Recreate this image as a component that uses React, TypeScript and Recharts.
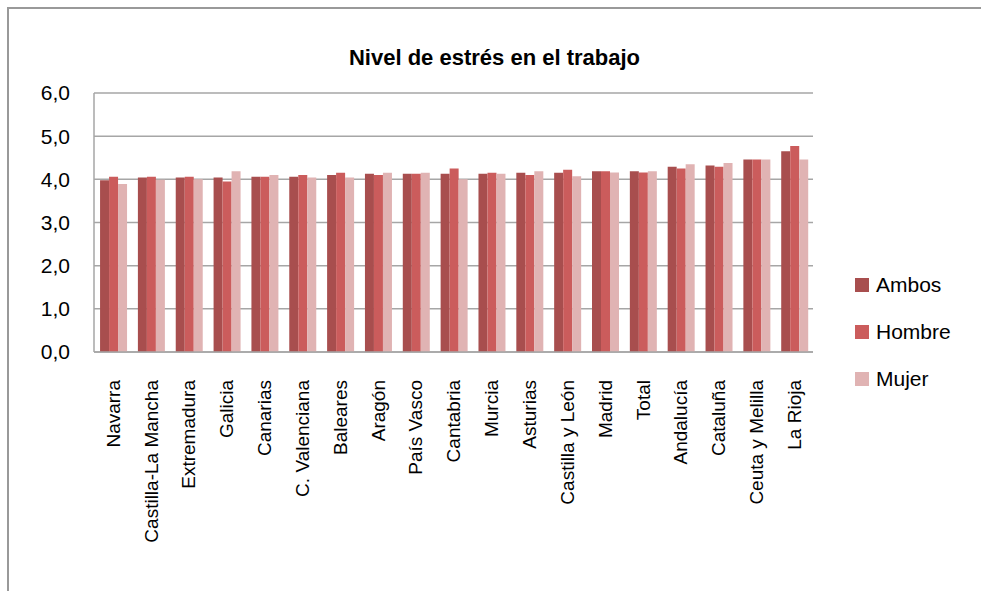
import React from 'react';
import { BarChart, Bar, XAxis, YAxis, CartesianGrid } from 'recharts';

const categories = ['Navarra', 'Castilla-La Mancha', 'Extremadura', 'Galicia', 'Canarias', 'C. Valenciana', 'Baleares', 'Aragón', 'País Vasco', 'Cantabria', 'Murcia', 'Asturias', 'Castilla y León', 'Madrid', 'Total', 'Andalucía', 'Cataluña', 'Ceuta y Melilla', 'La Rioja'];
const ambos = [3.98, 4.04, 4.04, 4.04, 4.06, 4.06, 4.10, 4.13, 4.13, 4.13, 4.13, 4.15, 4.15, 4.19, 4.19, 4.29, 4.32, 4.46, 4.65];
const hombre = [4.06, 4.06, 4.06, 3.95, 4.06, 4.10, 4.15, 4.10, 4.13, 4.25, 4.15, 4.10, 4.22, 4.19, 4.16, 4.25, 4.29, 4.46, 4.77];
const mujer = [3.89, 3.99, 4.00, 4.19, 4.10, 4.04, 4.04, 4.15, 4.15, 4.00, 4.13, 4.19, 4.07, 4.16, 4.19, 4.35, 4.38, 4.46, 4.46];
const yTicks = [0, 1, 2, 3, 4, 5, 6];
const title = 'Nivel de estrés en el trabajo';

const seriesInfo = [
  { key: 'Ambos', color: '#A84E4E' },
  { key: 'Hombre', color: '#CB5C5C' },
  { key: 'Mujer', color: '#E0B3B3' },
];

const data = categories.map((c, i) => ({ name: c, Ambos: ambos[i], Hombre: hombre[i], Mujer: mujer[i] }));

const FONT = '"Liberation Sans", Arial, sans-serif';

const XTick = (props: any) => {
  const { x, y, payload } = props;
  return (
    <text
      x={x}
      y={y}
      transform={`rotate(-90, ${x}, ${y})`}
      textAnchor="end"
      dy="0.36em"
      fontSize={19}
      fontFamily={FONT}
      fill="#000"
    >
      {payload.value}
    </text>
  );
};

export default function App() {
  return (
    <div style={{ position: 'absolute', left: 0, top: 0, width: 981, height: 591, background: '#fff' }}>
      <div
        style={{
          position: 'absolute',
          left: 7,
          top: 7,
          width: 974,
          height: 584,
          borderTop: '2px solid #999',
          borderLeft: '2px solid #999',
          boxSizing: 'border-box',
        }}
      />
      <div
        style={{
          position: 'absolute',
          left: 0,
          top: 45,
          width: 981,
          textAlign: 'center',
          fontFamily: FONT,
          fontWeight: 'bold',
          fontSize: 22,
          color: '#000',
          paddingLeft: 8,
          boxSizing: 'border-box',
        }}
      >
        {title}
      </div>
      <div style={{ position: 'absolute', left: 0, top: 0 }}>
        <BarChart
          width={981}
          height={591}
          data={data}
          margin={{ top: 93, right: 168, bottom: 9, left: 0 }}
          barCategoryGap="16%"
          barGap={0}
        >
          <CartesianGrid vertical={false} stroke="#A6A6A6" strokeWidth={1.5} />
          <XAxis
            dataKey="name"
            interval={0}
            height={230}
            tickLine={false}
            axisLine={{ stroke: '#A6A6A6', strokeWidth: 1.5 }}
            tick={<XTick />}
            tickMargin={22}
          />
          <YAxis
            width={94}
            domain={[0, 6]}
            ticks={yTicks}
            interval={0}
            tickLine={false}
            axisLine={{ stroke: '#A6A6A6', strokeWidth: 1.5 }}
            tickMargin={18}
            tickFormatter={(v: number) => v.toFixed(1).replace('.', ',')}
            tick={{ fontSize: 21, fontFamily: FONT, fill: '#000' }}
          />
          {seriesInfo.map((s) => (
            <Bar key={s.key} dataKey={s.key} fill={s.color} isAnimationActive={false} />
          ))}
        </BarChart>
      </div>
      <div style={{ position: 'absolute', left: 855, top: 261, width: 120, fontFamily: FONT }}>
        {seriesInfo.map((s) => (
          <div key={s.key} style={{ display: 'flex', alignItems: 'center', height: 47 }}>
            <div style={{ width: 14, height: 14, background: s.color, marginRight: 7 }} />
            <span style={{ fontSize: 21, color: '#000' }}>{s.key}</span>
          </div>
        ))}
      </div>
    </div>
  );
}
